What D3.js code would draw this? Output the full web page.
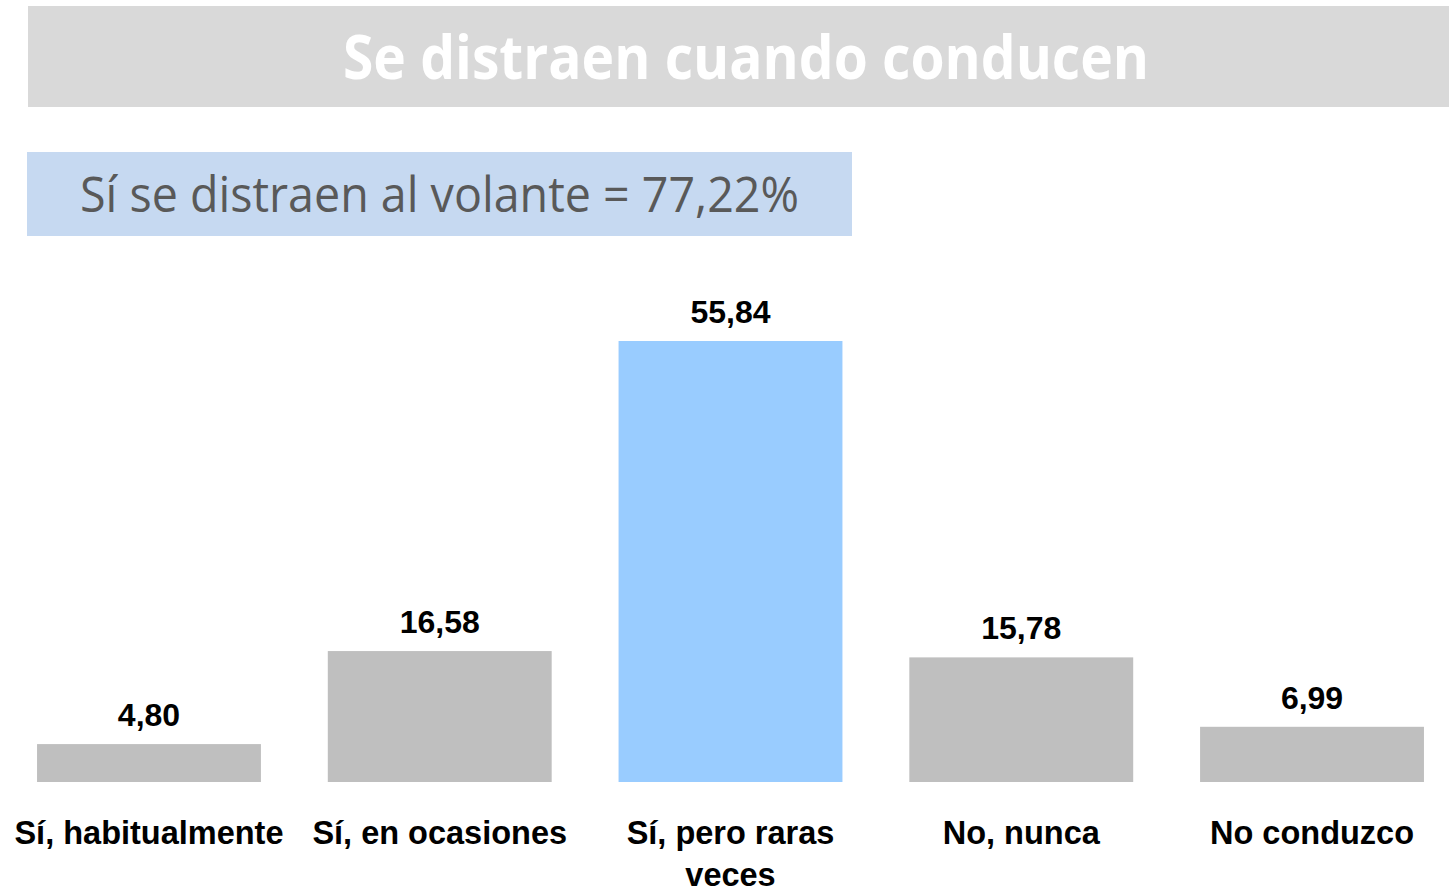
<!DOCTYPE html>
<html>
<head>
<meta charset="utf-8">
<script src="https://cdn.jsdelivr.net/npm/d3@7"></script>
<style>
  body { margin: 0; background: #fff; }
  svg { display: block; }
</style>
</head>
<body>
<div id="chart"></div>
<script>
// data
var categories = ["Sí, habitualmente", "Sí, en ocasiones", "Sí, pero raras veces", "No, nunca", "No conduzco"];
var values = [4.80, 16.58, 55.84, 15.78, 6.99];
var highlight = [false, false, true, false, false];
var title = "Se distraen cuando conducen";
var subtitle = "Sí se distraen al volante = 77,22%";

var width = 1449, height = 892;

var svg = d3.select("#chart")
    .append("svg")
    .attr("width", width)
    .attr("height", height);

// title banner
svg.append("rect")
    .attr("x", 28).attr("y", 6)
    .attr("width", width - 28).attr("height", 101)
    .attr("fill", "#d9d9d9");

svg.append("text")
    .attr("x", 343).attr("y", 79)
    .attr("textLength", 806)
    .attr("lengthAdjust", "spacingAndGlyphs")
    .attr("font-family", "'Open Sans', sans-serif")
    .attr("font-weight", 700)
    .attr("font-size", 60)
    .attr("fill", "#ffffff")
    .text(title);

// subtitle box
svg.append("rect")
    .attr("x", 27).attr("y", 152)
    .attr("width", 825).attr("height", 84)
    .attr("fill", "#c6d9f1");

svg.append("text")
    .attr("x", 80).attr("y", 212)
    .attr("textLength", 719)
    .attr("lengthAdjust", "spacingAndGlyphs")
    .attr("font-family", "'Open Sans', sans-serif")
    .attr("font-size", 49)
    .attr("fill", "#595959")
    .text(subtitle);

// scales
var baseline = 782;
var x = d3.scaleBand()
    .domain(categories)
    .range([3.6, 1457.4])
    .paddingInner(0.23)
    .paddingOuter(0.115);

var y = d3.scaleLinear()
    .domain([0, 55.84])
    .range([baseline, 341]);

var data = categories.map(function(c, i) {
    return { cat: c, value: values[i], hl: highlight[i] };
});

var g = svg.append("g");

g.selectAll(".bar")
    .data(data)
    .enter().append("rect")
    .attr("class", "bar")
    .attr("x", function(d) { return x(d.cat); })
    .attr("width", x.bandwidth())
    .attr("y", function(d) { return y(d.value); })
    .attr("height", function(d) { return baseline - y(d.value); })
    .attr("fill", function(d) { return d.hl ? "#99ccff" : "#bfbfbf"; });

// value labels
g.selectAll(".val")
    .data(data)
    .enter().append("text")
    .attr("class", "val")
    .attr("x", function(d) { return x(d.cat) + x.bandwidth() / 2; })
    .attr("y", function(d) { return y(d.value) - 18; })
    .attr("text-anchor", "middle")
    .attr("font-family", "'Liberation Sans', Arial, sans-serif")
    .attr("font-weight", 700)
    .attr("font-size", 32)
    .attr("fill", "#000")
    .text(function(d) { return d3.format(".2f")(d.value).replace(".", ","); });

// category labels (wrapped like the original)
var lines = {
    "Sí, pero raras veces": ["Sí, pero raras", "veces"]
};

var cat = g.selectAll(".cat")
    .data(data)
    .enter().append("text")
    .attr("class", "cat")
    .attr("text-anchor", "middle")
    .attr("font-family", "'Liberation Sans', Arial, sans-serif")
    .attr("font-weight", 700)
    .attr("font-size", 32.5)
    .attr("fill", "#000");

cat.each(function(d) {
    var t = d3.select(this);
    var parts = lines[d.cat] || [d.cat];
    parts.forEach(function(p, i) {
        t.append("tspan")
            .attr("x", x(d.cat) + x.bandwidth() / 2)
            .attr("y", 844 + i * 42)
            .text(p);
    });
});
</script>
</body>
</html>
